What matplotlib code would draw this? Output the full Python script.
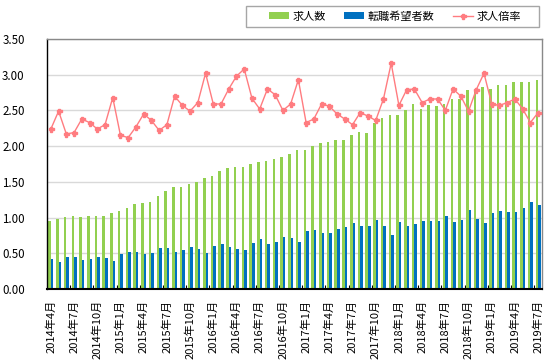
import matplotlib
matplotlib.use("Agg")
import matplotlib.pyplot as plt
import numpy as np
from matplotlib.patches import Rectangle
from matplotlib.lines import Line2D
from matplotlib.patches import Patch

plt.rcParams['font.family'] = ['Noto Sans CJK JP', 'DejaVu Sans']

tick_labels = ["2014年4月", "2014年7月", "2014年10月", "2015年1月", "2015年4月", "2015年7月",
               "2015年10月", "2016年1月", "2016年4月", "2016年7月", "2016年10月", "2017年1月",
               "2017年4月", "2017年7月", "2017年10月", "2018年1月", "2018年4月", "2018年7月",
               "2018年10月", "2019年1月", "2019年4月", "2019年7月"]

kyujin = [0.95, 0.98, 1.01, 1.02, 1.01, 1.02, 1.02, 1.02, 1.06, 1.09,
          1.13, 1.19, 1.20, 1.22, 1.30, 1.37, 1.43, 1.43, 1.47, 1.50,
          1.55, 1.58, 1.65, 1.69, 1.71, 1.71, 1.75, 1.78, 1.79, 1.82,
          1.85, 1.89, 1.95, 1.95, 2.00, 2.04, 2.06, 2.09, 2.09, 2.16,
          2.20, 2.18, 2.32, 2.39, 2.44, 2.44, 2.51, 2.59, 2.52, 2.58,
          2.56, 2.59, 2.66, 2.66, 2.79, 2.79, 2.83, 2.80, 2.86, 2.86,
          2.90, 2.90, 2.90, 2.93]

tenshoku = [0.42, 0.38, 0.45, 0.45, 0.41, 0.42, 0.45, 0.43, 0.39, 0.49,
            0.52, 0.52, 0.49, 0.50, 0.57, 0.57, 0.52, 0.55, 0.59, 0.56,
            0.50, 0.60, 0.63, 0.59, 0.56, 0.55, 0.64, 0.70, 0.63, 0.66,
            0.73, 0.71, 0.66, 0.81, 0.83, 0.78, 0.78, 0.84, 0.87, 0.92,
            0.88, 0.88, 0.97, 0.88, 0.76, 0.94, 0.88, 0.91, 0.95, 0.95,
            0.95, 1.02, 0.94, 0.97, 1.11, 0.98, 0.92, 1.06, 1.09, 1.08,
            1.08, 1.13, 1.22, 1.18]

bairitsu = [2.24, 2.49, 2.17, 2.19, 2.38, 2.33, 2.24, 2.30, 2.68, 2.15,
            2.12, 2.27, 2.45, 2.36, 2.22, 2.30, 2.70, 2.57, 2.49, 2.61,
            3.02, 2.59, 2.59, 2.80, 2.98, 3.08, 2.67, 2.52, 2.80, 2.72,
            2.50, 2.59, 2.93, 2.33, 2.38, 2.59, 2.56, 2.45, 2.38, 2.30,
            2.47, 2.42, 2.36, 2.66, 3.16, 2.57, 2.79, 2.80, 2.61, 2.66,
            2.66, 2.50, 2.80, 2.70, 2.49, 2.79, 3.02, 2.59, 2.57, 2.61,
            2.66, 2.52, 2.33, 2.47]

series_names = ["求人数", "転職希望者数", "求人倍率"]
c_green = "#92D050"
c_blue = "#0070C0"
c_line = "#FF7C80"

W, H = 553, 363
fig = plt.figure(figsize=(W / 100, H / 100), dpi=100)
ax = fig.add_axes([47 / W, 1 - 289 / H, (542 - 47) / W, (289 - 39) / H])

x = np.arange(len(kyujin))
bw = 0.33
ax.bar(x - bw / 2, kyujin, width=bw, color=c_green, zorder=2, linewidth=0)
ax.bar(x + bw / 2, tenshoku, width=bw, color=c_blue, zorder=2, linewidth=0)
ax.plot(x, bairitsu, color=c_line, lw=1.0, marker='P', markersize=3.6,
        markerfacecolor=c_line, markeredgecolor=c_line, zorder=3)

ax.set_xlim(-0.5, len(kyujin) - 0.5)
ax.set_ylim(0, 3.5)
ax.set_yticks(np.arange(0, 3.51, 0.5))
ax.set_yticklabels([f"{v:.2f}" for v in np.arange(0, 3.51, 0.5)], fontsize=8.3)
ax.tick_params(axis='y', length=0, pad=16)
ax.yaxis.grid(True, color="#D9D9D9", lw=1.0, zorder=0)
ax.set_axisbelow(True)

ax.set_xticks(np.arange(0, len(kyujin), 3))
ax.set_xticklabels(tick_labels, rotation=90, fontsize=8, va='top', ha='center')
ax.tick_params(axis='x', which='major', length=0, pad=8)
ax.set_xticks(np.arange(2.5, len(kyujin) - 1, 3), minor=True)
ax.tick_params(axis='x', which='minor', direction='in', length=3, width=0.8, color='black')

for s in ['top', 'right']:
    ax.spines[s].set_color('#898989')
    ax.spines[s].set_linewidth(1.0)
ax.spines['left'].set_color('black')
ax.spines['left'].set_linewidth(1.0)
ax.spines['bottom'].set_color('black')
ax.spines['bottom'].set_linewidth(1.5)

# legend
fig.patches.append(Rectangle((246 / W, 1 - 27 / H), (539 - 246) / W, 21 / H,
                             transform=fig.transFigure, facecolor='white',
                             edgecolor='#A6A6A6', lw=1.0))
handles = [Patch(facecolor=c_green, edgecolor='none'),
           Patch(facecolor=c_blue, edgecolor='none'),
           Line2D([0], [0], color=c_line, lw=1.0, marker='P', markersize=3.6)]
fig.legend(handles, series_names, loc='center', bbox_to_anchor=(395 / W, 1 - 16.5 / H),
           ncol=3, frameon=False, fontsize=8, handlelength=1.8, handleheight=0.6,
           handletextpad=0.3, columnspacing=1.7, borderpad=0)

fig.savefig("out.png", dpi=100)
